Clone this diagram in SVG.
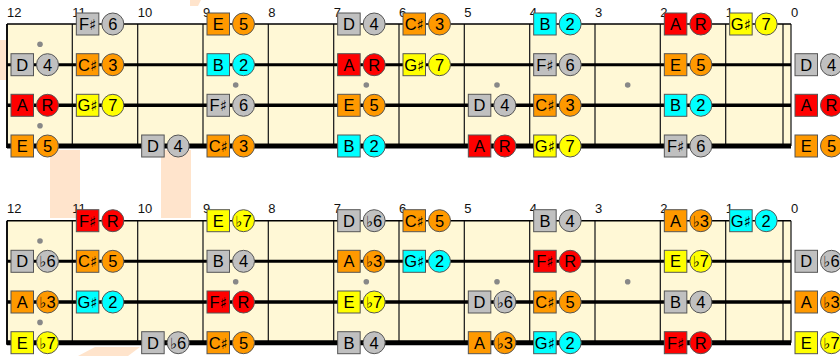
<svg xmlns="http://www.w3.org/2000/svg" width="840" height="356" viewBox="0 0 840 356">
<style>
.wm{fill:#FFE4CC}
.board{fill:#FFF8D6;stroke:none}
.fret{stroke:#222;stroke-width:1.3}
.edge{stroke:#111;stroke-width:2}
.dot{fill:#888}
.lbl{font-family:"Liberation Sans",Arial,sans-serif;font-size:13px;fill:#111}
.s1{stroke:#000;stroke-width:1.6}
.s2{stroke:#000;stroke-width:3}
.s3{stroke:#000;stroke-width:3.6}
.s4{stroke:#000;stroke-width:5}
.n rect,.n circle{stroke:#555;stroke-width:1}
.n text{font-family:"Liberation Sans",Arial,sans-serif;font-size:16.5px;text-anchor:middle;fill:#000}
.n .acc{font-family:"DejaVu Sans",sans-serif;font-size:15px}
.r{fill:#FF0000}.o{fill:#FF9900}.y{fill:#FFFF00}.c{fill:#00FFFF}.g{fill:#C0C0C0}
</style>
<g id="watermark">
<rect class="wm" x="50" y="150" width="30" height="68"/>
<rect class="wm" x="161" y="150" width="30" height="68"/>
<rect class="wm" x="0" y="40" width="6" height="40"/>
<polygon class="wm" points="190,0 201,0 198,6 190,6"/>
<polygon class="wm" points="78,356 95,347 140,347 128,356"/>
</g>
<g id="board-top">
<rect class="board" x="7" y="24" width="784" height="122"/>
<circle class="dot" cx="40" cy="44.3" r="2.8"/>
<circle class="dot" cx="40" cy="125.7" r="2.8"/>
<circle class="dot" cx="235.7" cy="85" r="2.8"/>
<circle class="dot" cx="366.3" cy="85" r="2.8"/>
<circle class="dot" cx="497" cy="85" r="2.8"/>
<circle class="dot" cx="627.7" cy="85" r="2.8"/>
<g class="fret">
<line x1="72.33" y1="24" x2="72.33" y2="146"/>
<line x1="137.67" y1="24" x2="137.67" y2="146"/>
<line x1="203" y1="24" x2="203" y2="146"/>
<line x1="268.33" y1="24" x2="268.33" y2="146"/>
<line x1="333.67" y1="24" x2="333.67" y2="146"/>
<line x1="399" y1="24" x2="399" y2="146"/>
<line x1="464.33" y1="24" x2="464.33" y2="146"/>
<line x1="529.67" y1="24" x2="529.67" y2="146"/>
<line x1="595" y1="24" x2="595" y2="146"/>
<line x1="660.33" y1="24" x2="660.33" y2="146"/>
<line x1="725.67" y1="24" x2="725.67" y2="146"/>
<line x1="783" y1="24" x2="783" y2="146"/>
<line x1="791" y1="24" x2="791" y2="146"/>
</g>
<line class="edge" x1="7" y1="24" x2="7" y2="148"/>
<g class="lbl">
<text x="7" y="17">12</text><text x="72.3" y="17">11</text><text x="137.7" y="17">10</text><text x="203" y="17">9</text><text x="268.3" y="17">8</text><text x="333.7" y="17">7</text><text x="399" y="17">6</text><text x="464.3" y="17">5</text><text x="529.7" y="17">4</text><text x="595" y="17">3</text><text x="660.3" y="17">2</text><text x="725.7" y="17">1</text><text x="791" y="17">0</text>
</g>
</g>
<g id="board-bottom">
<rect class="board" x="7" y="220.7" width="784" height="122"/>
<circle class="dot" cx="40" cy="241" r="2.8"/>
<circle class="dot" cx="40" cy="322.4" r="2.8"/>
<circle class="dot" cx="235.7" cy="281.7" r="2.8"/>
<circle class="dot" cx="366.3" cy="281.7" r="2.8"/>
<circle class="dot" cx="497" cy="281.7" r="2.8"/>
<circle class="dot" cx="627.7" cy="281.7" r="2.8"/>
<g class="fret">
<line x1="72.33" y1="220.7" x2="72.33" y2="342.7"/>
<line x1="137.67" y1="220.7" x2="137.67" y2="342.7"/>
<line x1="203" y1="220.7" x2="203" y2="342.7"/>
<line x1="268.33" y1="220.7" x2="268.33" y2="342.7"/>
<line x1="333.67" y1="220.7" x2="333.67" y2="342.7"/>
<line x1="399" y1="220.7" x2="399" y2="342.7"/>
<line x1="464.33" y1="220.7" x2="464.33" y2="342.7"/>
<line x1="529.67" y1="220.7" x2="529.67" y2="342.7"/>
<line x1="595" y1="220.7" x2="595" y2="342.7"/>
<line x1="660.33" y1="220.7" x2="660.33" y2="342.7"/>
<line x1="725.67" y1="220.7" x2="725.67" y2="342.7"/>
<line x1="783" y1="220.7" x2="783" y2="342.7"/>
<line x1="791" y1="220.7" x2="791" y2="342.7"/>
</g>
<line class="edge" x1="7" y1="220.7" x2="7" y2="344.7"/>
<g class="lbl">
<text x="7" y="213">12</text><text x="72.3" y="213">11</text><text x="137.7" y="213">10</text><text x="203" y="213">9</text><text x="268.3" y="213">8</text><text x="333.7" y="213">7</text><text x="399" y="213">6</text><text x="464.3" y="213">5</text><text x="529.7" y="213">4</text><text x="595" y="213">3</text><text x="660.3" y="213">2</text><text x="725.7" y="213">1</text><text x="791" y="213">0</text>
</g>
</g>
<g id="strings">
<line class="s1" x1="7" y1="24" x2="791" y2="24"/>
<line class="s2" x1="7" y1="64.7" x2="791" y2="64.7"/>
<line class="s3" x1="7" y1="105.3" x2="791" y2="105.3"/>
<line class="s4" x1="7" y1="146" x2="791" y2="146"/>
<line class="s1" x1="7" y1="220.7" x2="791" y2="220.7"/>
<line class="s2" x1="7" y1="261.3" x2="791" y2="261.3"/>
<line class="s3" x1="7" y1="302" x2="791" y2="302"/>
<line class="s4" x1="7" y1="342.7" x2="791" y2="342.7"/>
</g>
<g id="notes-top">
<g id="tG11" class="n" transform="translate(72.33,24)"><rect class="g" x="4" y="-11" width="22.5" height="22"/><text x="15.25" y="6">F<tspan class="acc">♯</tspan></text><circle class="g" cx="40.5" r="11"/><text x="40.5" y="6">6</text></g>
<g id="tG9" class="n" transform="translate(203,24)"><rect class="o" x="4" y="-11" width="22.5" height="22"/><text x="15.25" y="6">E</text><circle class="o" cx="40.5" r="11"/><text x="40.5" y="6">5</text></g>
<g id="tG7" class="n" transform="translate(333.67,24)"><rect class="g" x="4" y="-11" width="22.5" height="22"/><text x="15.25" y="6">D</text><circle class="g" cx="40.5" r="11"/><text x="40.5" y="6">4</text></g>
<g id="tG6" class="n" transform="translate(399,24)"><rect class="o" x="4" y="-11" width="22.5" height="22"/><text x="15.25" y="6">C<tspan class="acc">♯</tspan></text><circle class="o" cx="40.5" r="11"/><text x="40.5" y="6">3</text></g>
<g id="tG4" class="n" transform="translate(529.67,24)"><rect class="c" x="4" y="-11" width="22.5" height="22"/><text x="15.25" y="6">B</text><circle class="c" cx="40.5" r="11"/><text x="40.5" y="6">2</text></g>
<g id="tG2" class="n" transform="translate(660.33,24)"><rect class="r" x="4" y="-11" width="22.5" height="22"/><text x="15.25" y="6">A</text><circle class="r" cx="40.5" r="11"/><text x="40.5" y="6">R</text></g>
<g id="tG1" class="n" transform="translate(725.67,24)"><rect class="y" x="4" y="-11" width="22.5" height="22"/><text x="15.25" y="6">G<tspan class="acc">♯</tspan></text><circle class="y" cx="40.5" r="11"/><text x="40.5" y="6">7</text></g>

<g id="tD12" class="n" transform="translate(7,64.7)"><rect class="g" x="4" y="-11" width="22.5" height="22"/><text x="15.25" y="6">D</text><circle class="g" cx="40.5" r="11"/><text x="40.5" y="6">4</text></g>
<g id="tD11" class="n" transform="translate(72.33,64.7)"><rect class="o" x="4" y="-11" width="22.5" height="22"/><text x="15.25" y="6">C<tspan class="acc">♯</tspan></text><circle class="o" cx="40.5" r="11"/><text x="40.5" y="6">3</text></g>
<g id="tD9" class="n" transform="translate(203,64.7)"><rect class="c" x="4" y="-11" width="22.5" height="22"/><text x="15.25" y="6">B</text><circle class="c" cx="40.5" r="11"/><text x="40.5" y="6">2</text></g>
<g id="tD7" class="n" transform="translate(333.67,64.7)"><rect class="r" x="4" y="-11" width="22.5" height="22"/><text x="15.25" y="6">A</text><circle class="r" cx="40.5" r="11"/><text x="40.5" y="6">R</text></g>
<g id="tD6" class="n" transform="translate(399,64.7)"><rect class="y" x="4" y="-11" width="22.5" height="22"/><text x="15.25" y="6">G<tspan class="acc">♯</tspan></text><circle class="y" cx="40.5" r="11"/><text x="40.5" y="6">7</text></g>
<g id="tD4" class="n" transform="translate(529.67,64.7)"><rect class="g" x="4" y="-11" width="22.5" height="22"/><text x="15.25" y="6">F<tspan class="acc">♯</tspan></text><circle class="g" cx="40.5" r="11"/><text x="40.5" y="6">6</text></g>
<g id="tD2" class="n" transform="translate(660.33,64.7)"><rect class="o" x="4" y="-11" width="22.5" height="22"/><text x="15.25" y="6">E</text><circle class="o" cx="40.5" r="11"/><text x="40.5" y="6">5</text></g>
<g id="tD0" class="n" transform="translate(791,64.7)"><rect class="g" x="4" y="-11" width="22.5" height="22"/><text x="15.25" y="6">D</text><circle class="g" cx="40.5" r="11"/><text x="40.5" y="6">4</text></g>

<g id="tA12" class="n" transform="translate(7,105.3)"><rect class="r" x="4" y="-11" width="22.5" height="22"/><text x="15.25" y="6">A</text><circle class="r" cx="40.5" r="11"/><text x="40.5" y="6">R</text></g>
<g id="tA11" class="n" transform="translate(72.33,105.3)"><rect class="y" x="4" y="-11" width="22.5" height="22"/><text x="15.25" y="6">G<tspan class="acc">♯</tspan></text><circle class="y" cx="40.5" r="11"/><text x="40.5" y="6">7</text></g>
<g id="tA9" class="n" transform="translate(203,105.3)"><rect class="g" x="4" y="-11" width="22.5" height="22"/><text x="15.25" y="6">F<tspan class="acc">♯</tspan></text><circle class="g" cx="40.5" r="11"/><text x="40.5" y="6">6</text></g>
<g id="tA7" class="n" transform="translate(333.67,105.3)"><rect class="o" x="4" y="-11" width="22.5" height="22"/><text x="15.25" y="6">E</text><circle class="o" cx="40.5" r="11"/><text x="40.5" y="6">5</text></g>
<g id="tA5" class="n" transform="translate(464.33,105.3)"><rect class="g" x="4" y="-11" width="22.5" height="22"/><text x="15.25" y="6">D</text><circle class="g" cx="40.5" r="11"/><text x="40.5" y="6">4</text></g>
<g id="tA4" class="n" transform="translate(529.67,105.3)"><rect class="o" x="4" y="-11" width="22.5" height="22"/><text x="15.25" y="6">C<tspan class="acc">♯</tspan></text><circle class="o" cx="40.5" r="11"/><text x="40.5" y="6">3</text></g>
<g id="tA2" class="n" transform="translate(660.33,105.3)"><rect class="c" x="4" y="-11" width="22.5" height="22"/><text x="15.25" y="6">B</text><circle class="c" cx="40.5" r="11"/><text x="40.5" y="6">2</text></g>
<g id="tA0" class="n" transform="translate(791,105.3)"><rect class="r" x="4" y="-11" width="22.5" height="22"/><text x="15.25" y="6">A</text><circle class="r" cx="40.5" r="11"/><text x="40.5" y="6">R</text></g>

<g id="tE12" class="n" transform="translate(7,146)"><rect class="o" x="4" y="-11" width="22.5" height="22"/><text x="15.25" y="6">E</text><circle class="o" cx="40.5" r="11"/><text x="40.5" y="6">5</text></g>
<g id="tE10" class="n" transform="translate(137.67,146)"><rect class="g" x="4" y="-11" width="22.5" height="22"/><text x="15.25" y="6">D</text><circle class="g" cx="40.5" r="11"/><text x="40.5" y="6">4</text></g>
<g id="tE9" class="n" transform="translate(203,146)"><rect class="o" x="4" y="-11" width="22.5" height="22"/><text x="15.25" y="6">C<tspan class="acc">♯</tspan></text><circle class="o" cx="40.5" r="11"/><text x="40.5" y="6">3</text></g>
<g id="tE7" class="n" transform="translate(333.67,146)"><rect class="c" x="4" y="-11" width="22.5" height="22"/><text x="15.25" y="6">B</text><circle class="c" cx="40.5" r="11"/><text x="40.5" y="6">2</text></g>
<g id="tE5" class="n" transform="translate(464.33,146)"><rect class="r" x="4" y="-11" width="22.5" height="22"/><text x="15.25" y="6">A</text><circle class="r" cx="40.5" r="11"/><text x="40.5" y="6">R</text></g>
<g id="tE4" class="n" transform="translate(529.67,146)"><rect class="y" x="4" y="-11" width="22.5" height="22"/><text x="15.25" y="6">G<tspan class="acc">♯</tspan></text><circle class="y" cx="40.5" r="11"/><text x="40.5" y="6">7</text></g>
<g id="tE2" class="n" transform="translate(660.33,146)"><rect class="g" x="4" y="-11" width="22.5" height="22"/><text x="15.25" y="6">F<tspan class="acc">♯</tspan></text><circle class="g" cx="40.5" r="11"/><text x="40.5" y="6">6</text></g>
<g id="tE0" class="n" transform="translate(791,146)"><rect class="o" x="4" y="-11" width="22.5" height="22"/><text x="15.25" y="6">E</text><circle class="o" cx="40.5" r="11"/><text x="40.5" y="6">5</text></g>
</g>
<g id="notes-bottom">
<g id="bG11" class="n" transform="translate(72.33,220.7)"><rect class="r" x="4" y="-11" width="22.5" height="22"/><text x="15.25" y="6">F<tspan class="acc">♯</tspan></text><circle class="r" cx="40.5" r="11"/><text x="40.5" y="6">R</text></g>
<g id="bG9" class="n" transform="translate(203,220.7)"><rect class="y" x="4" y="-11" width="22.5" height="22"/><text x="15.25" y="6">E</text><circle class="y" cx="40.5" r="11"/><text x="40.5" y="6"><tspan class="acc">♭</tspan>7</text></g>
<g id="bG7" class="n" transform="translate(333.67,220.7)"><rect class="g" x="4" y="-11" width="22.5" height="22"/><text x="15.25" y="6">D</text><circle class="g" cx="40.5" r="11"/><text x="40.5" y="6"><tspan class="acc">♭</tspan>6</text></g>
<g id="bG6" class="n" transform="translate(399,220.7)"><rect class="o" x="4" y="-11" width="22.5" height="22"/><text x="15.25" y="6">C<tspan class="acc">♯</tspan></text><circle class="o" cx="40.5" r="11"/><text x="40.5" y="6">5</text></g>
<g id="bG4" class="n" transform="translate(529.67,220.7)"><rect class="g" x="4" y="-11" width="22.5" height="22"/><text x="15.25" y="6">B</text><circle class="g" cx="40.5" r="11"/><text x="40.5" y="6">4</text></g>
<g id="bG2" class="n" transform="translate(660.33,220.7)"><rect class="o" x="4" y="-11" width="22.5" height="22"/><text x="15.25" y="6">A</text><circle class="o" cx="40.5" r="11"/><text x="40.5" y="6"><tspan class="acc">♭</tspan>3</text></g>
<g id="bG1" class="n" transform="translate(725.67,220.7)"><rect class="c" x="4" y="-11" width="22.5" height="22"/><text x="15.25" y="6">G<tspan class="acc">♯</tspan></text><circle class="c" cx="40.5" r="11"/><text x="40.5" y="6">2</text></g>

<g id="bD12" class="n" transform="translate(7,261.3)"><rect class="g" x="4" y="-11" width="22.5" height="22"/><text x="15.25" y="6">D</text><circle class="g" cx="40.5" r="11"/><text x="40.5" y="6"><tspan class="acc">♭</tspan>6</text></g>
<g id="bD11" class="n" transform="translate(72.33,261.3)"><rect class="o" x="4" y="-11" width="22.5" height="22"/><text x="15.25" y="6">C<tspan class="acc">♯</tspan></text><circle class="o" cx="40.5" r="11"/><text x="40.5" y="6">5</text></g>
<g id="bD9" class="n" transform="translate(203,261.3)"><rect class="g" x="4" y="-11" width="22.5" height="22"/><text x="15.25" y="6">B</text><circle class="g" cx="40.5" r="11"/><text x="40.5" y="6">4</text></g>
<g id="bD7" class="n" transform="translate(333.67,261.3)"><rect class="o" x="4" y="-11" width="22.5" height="22"/><text x="15.25" y="6">A</text><circle class="o" cx="40.5" r="11"/><text x="40.5" y="6"><tspan class="acc">♭</tspan>3</text></g>
<g id="bD6" class="n" transform="translate(399,261.3)"><rect class="c" x="4" y="-11" width="22.5" height="22"/><text x="15.25" y="6">G<tspan class="acc">♯</tspan></text><circle class="c" cx="40.5" r="11"/><text x="40.5" y="6">2</text></g>
<g id="bD4" class="n" transform="translate(529.67,261.3)"><rect class="r" x="4" y="-11" width="22.5" height="22"/><text x="15.25" y="6">F<tspan class="acc">♯</tspan></text><circle class="r" cx="40.5" r="11"/><text x="40.5" y="6">R</text></g>
<g id="bD2" class="n" transform="translate(660.33,261.3)"><rect class="y" x="4" y="-11" width="22.5" height="22"/><text x="15.25" y="6">E</text><circle class="y" cx="40.5" r="11"/><text x="40.5" y="6"><tspan class="acc">♭</tspan>7</text></g>
<g id="bD0" class="n" transform="translate(791,261.3)"><rect class="g" x="4" y="-11" width="22.5" height="22"/><text x="15.25" y="6">D</text><circle class="g" cx="40.5" r="11"/><text x="40.5" y="6"><tspan class="acc">♭</tspan>6</text></g>

<g id="bA12" class="n" transform="translate(7,302)"><rect class="o" x="4" y="-11" width="22.5" height="22"/><text x="15.25" y="6">A</text><circle class="o" cx="40.5" r="11"/><text x="40.5" y="6"><tspan class="acc">♭</tspan>3</text></g>
<g id="bA11" class="n" transform="translate(72.33,302)"><rect class="c" x="4" y="-11" width="22.5" height="22"/><text x="15.25" y="6">G<tspan class="acc">♯</tspan></text><circle class="c" cx="40.5" r="11"/><text x="40.5" y="6">2</text></g>
<g id="bA9" class="n" transform="translate(203,302)"><rect class="r" x="4" y="-11" width="22.5" height="22"/><text x="15.25" y="6">F<tspan class="acc">♯</tspan></text><circle class="r" cx="40.5" r="11"/><text x="40.5" y="6">R</text></g>
<g id="bA7" class="n" transform="translate(333.67,302)"><rect class="y" x="4" y="-11" width="22.5" height="22"/><text x="15.25" y="6">E</text><circle class="y" cx="40.5" r="11"/><text x="40.5" y="6"><tspan class="acc">♭</tspan>7</text></g>
<g id="bA5" class="n" transform="translate(464.33,302)"><rect class="g" x="4" y="-11" width="22.5" height="22"/><text x="15.25" y="6">D</text><circle class="g" cx="40.5" r="11"/><text x="40.5" y="6"><tspan class="acc">♭</tspan>6</text></g>
<g id="bA4" class="n" transform="translate(529.67,302)"><rect class="o" x="4" y="-11" width="22.5" height="22"/><text x="15.25" y="6">C<tspan class="acc">♯</tspan></text><circle class="o" cx="40.5" r="11"/><text x="40.5" y="6">5</text></g>
<g id="bA2" class="n" transform="translate(660.33,302)"><rect class="g" x="4" y="-11" width="22.5" height="22"/><text x="15.25" y="6">B</text><circle class="g" cx="40.5" r="11"/><text x="40.5" y="6">4</text></g>
<g id="bA0" class="n" transform="translate(791,302)"><rect class="o" x="4" y="-11" width="22.5" height="22"/><text x="15.25" y="6">A</text><circle class="o" cx="40.5" r="11"/><text x="40.5" y="6"><tspan class="acc">♭</tspan>3</text></g>

<g id="bE12" class="n" transform="translate(7,342.7)"><rect class="y" x="4" y="-11" width="22.5" height="22"/><text x="15.25" y="6">E</text><circle class="y" cx="40.5" r="11"/><text x="40.5" y="6"><tspan class="acc">♭</tspan>7</text></g>
<g id="bE10" class="n" transform="translate(137.67,342.7)"><rect class="g" x="4" y="-11" width="22.5" height="22"/><text x="15.25" y="6">D</text><circle class="g" cx="40.5" r="11"/><text x="40.5" y="6"><tspan class="acc">♭</tspan>6</text></g>
<g id="bE9" class="n" transform="translate(203,342.7)"><rect class="o" x="4" y="-11" width="22.5" height="22"/><text x="15.25" y="6">C<tspan class="acc">♯</tspan></text><circle class="o" cx="40.5" r="11"/><text x="40.5" y="6">5</text></g>
<g id="bE7" class="n" transform="translate(333.67,342.7)"><rect class="g" x="4" y="-11" width="22.5" height="22"/><text x="15.25" y="6">B</text><circle class="g" cx="40.5" r="11"/><text x="40.5" y="6">4</text></g>
<g id="bE5" class="n" transform="translate(464.33,342.7)"><rect class="o" x="4" y="-11" width="22.5" height="22"/><text x="15.25" y="6">A</text><circle class="o" cx="40.5" r="11"/><text x="40.5" y="6"><tspan class="acc">♭</tspan>3</text></g>
<g id="bE4" class="n" transform="translate(529.67,342.7)"><rect class="c" x="4" y="-11" width="22.5" height="22"/><text x="15.25" y="6">G<tspan class="acc">♯</tspan></text><circle class="c" cx="40.5" r="11"/><text x="40.5" y="6">2</text></g>
<g id="bE2" class="n" transform="translate(660.33,342.7)"><rect class="r" x="4" y="-11" width="22.5" height="22"/><text x="15.25" y="6">F<tspan class="acc">♯</tspan></text><circle class="r" cx="40.5" r="11"/><text x="40.5" y="6">R</text></g>
<g id="bE0" class="n" transform="translate(791,342.7)"><rect class="y" x="4" y="-11" width="22.5" height="22"/><text x="15.25" y="6">E</text><circle class="y" cx="40.5" r="11"/><text x="40.5" y="6"><tspan class="acc">♭</tspan>7</text></g>
</g>
</svg>
